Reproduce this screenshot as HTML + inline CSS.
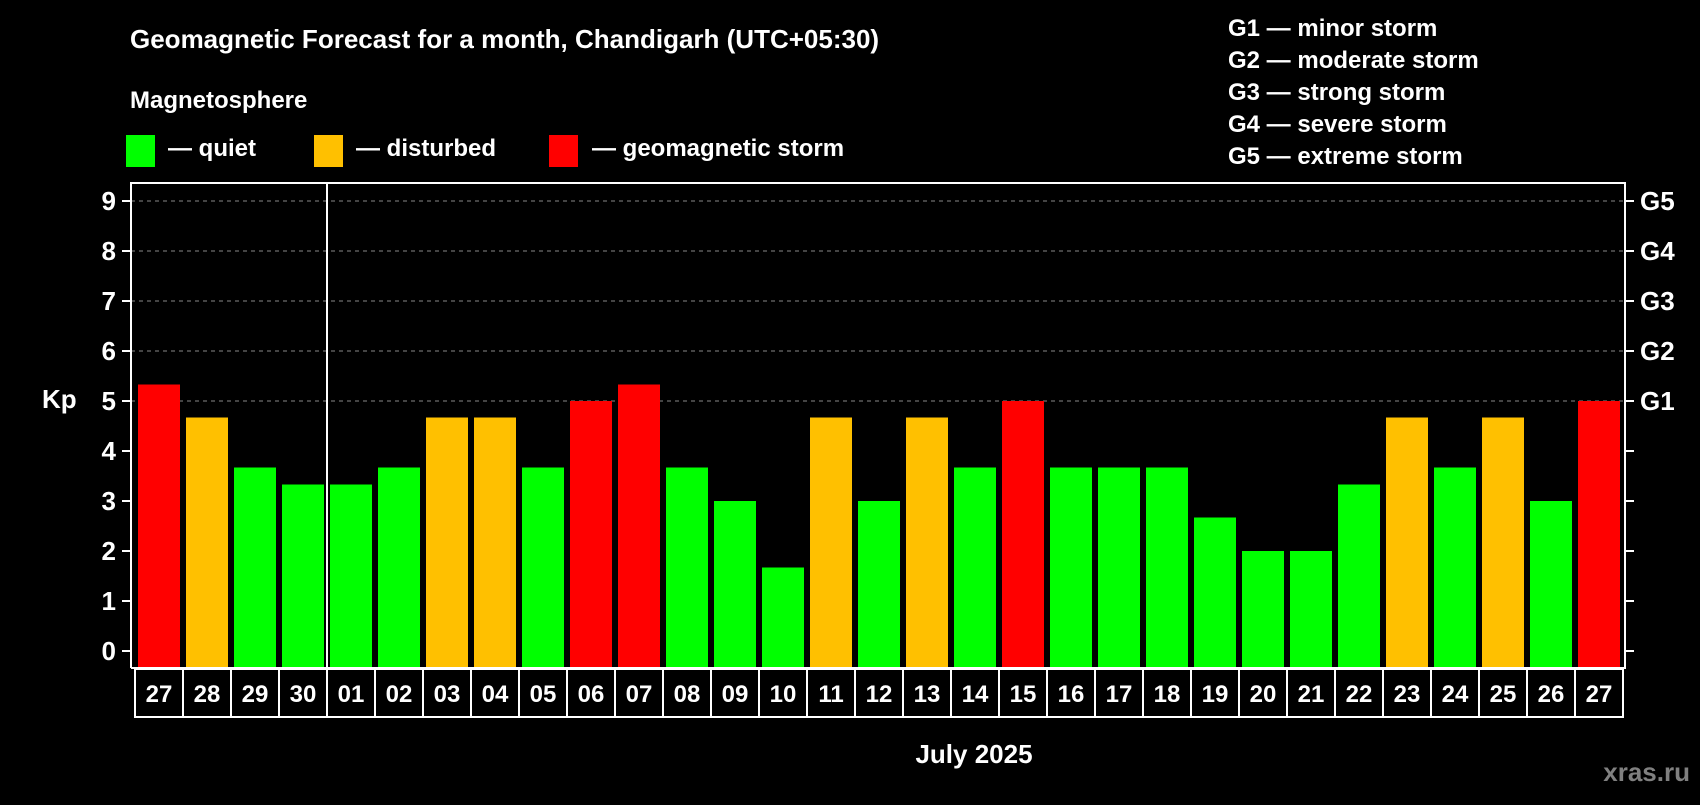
<!DOCTYPE html>
<html><head><meta charset="utf-8"><style>
body{margin:0;background:#000;}
svg text{font-family:"Liberation Sans",Arial,sans-serif;font-weight:bold;fill:#fff;}
</style></head><body>
<svg id="chart" width="1700" height="800" xmlns="http://www.w3.org/2000/svg">
<rect width="1700" height="800" fill="#000"/>
<text x="130" y="48" font-size="26">Geomagnetic Forecast for a month, Chandigarh (UTC+05:30)</text>
<text x="130" y="108" font-size="24">Magnetosphere</text>
<rect x="126" y="135" width="29" height="32" fill="#00ff00"/>
<text x="168" y="156" font-size="24">— quiet</text>
<rect x="314" y="135" width="29" height="32" fill="#ffc000"/>
<text x="356" y="156" font-size="24">— disturbed</text>
<rect x="549" y="135" width="29" height="32" fill="#ff0000"/>
<text x="592" y="156" font-size="24">— geomagnetic storm</text>
<g font-size="24">
<text x="1228" y="36">G1 — minor storm</text>
<text x="1228" y="68">G2 — moderate storm</text>
<text x="1228" y="100">G3 — strong storm</text>
<text x="1228" y="132">G4 — severe storm</text>
<text x="1228" y="164">G5 — extreme storm</text>
</g>
<text x="42" y="408" font-size="26">Kp</text>
<text x="974" y="763" font-size="26" text-anchor="middle">July 2025</text>
<text x="1690" y="781" font-size="26" text-anchor="end" style="fill:#808080">xras.ru</text>
<g id="grid"></g><g id="bars"></g><g id="axes"></g>
</svg>
<script>
const days=["27","28","29","30","01","02","03","04","05","06","07","08","09","10","11","12","13","14","15","16","17","18","19","20","21","22","23","24","25","26","27"];
const kp=[5.33,4.67,3.67,3.33,3.33,3.67,4.67,4.67,3.67,5,5.33,3.67,3,1.67,4.67,3,4.67,3.67,5,3.67,3.67,3.67,2.67,2,2,3.33,4.67,3.67,4.67,3,5];
const yTicks=[0,1,2,3,4,5,6,7,8,9];
const gLabels={5:"G1",6:"G2",7:"G3",8:"G4",9:"G5"};
const NS="http://www.w3.org/2000/svg";
const L=131,R=1625,T=183,B=668,X0=135,P=48;
const y=v=>651-v*50;
const x=i=>X0+i*P;
function mk(t,a,p){const e=document.createElementNS(NS,t);for(const k in a)e.setAttribute(k,a[k]);p.appendChild(e);return e;}
const grid=document.getElementById('grid'),bars=document.getElementById('bars'),axes=document.getElementById('axes');
yTicks.forEach(v=>{
 if(v>=5){const g=mk('line',{x1:L,x2:R,y1:y(v),y2:y(v),stroke:'#888','stroke-dasharray':'4,4','stroke-width':1},grid);
 
 }
 mk('line',{x1:L-9,x2:L,y1:y(v),y2:y(v),stroke:'#fff','stroke-width':2},axes);
 mk('line',{x1:R,x2:R+9,y1:y(v),y2:y(v),stroke:'#fff','stroke-width':2},axes);
 const t=mk('text',{x:116,y:y(v)+9,'font-size':26,'text-anchor':'end'},axes);t.textContent=v;
 
 
 if(gLabels[v]){const g=mk('text',{x:1640,y:y(v)+9,'font-size':26},axes);g.textContent=gLabels[v];
 
 }
});
kp.forEach((v,i)=>{
 const c=v>=5?'#ff0000':(v>=4?'#ffc000':'#00ff00');
 const r=mk('rect',{x:x(i)+3,y:y(v),width:42,height:B-y(v),fill:c},bars);
 
 
 const b=mk('rect',{x:x(i),y:B+1,width:P,height:48,fill:'none',stroke:'#fff','stroke-width':2},axes);
 
 
 const t=mk('text',{x:x(i)+P/2,y:B+34,'font-size':24,'text-anchor':'middle'},axes);t.textContent=days[i];
 
 
});
const f=mk('path',{d:`M${L} ${B}V${T}H${R}V${B}H${L}`,fill:'none',stroke:'#fff','stroke-width':2},axes);


const d=mk('line',{x1:x(4),x2:x(4),y1:T,y2:B,stroke:'#fff','stroke-width':2},axes);


</script>
</body></html>
